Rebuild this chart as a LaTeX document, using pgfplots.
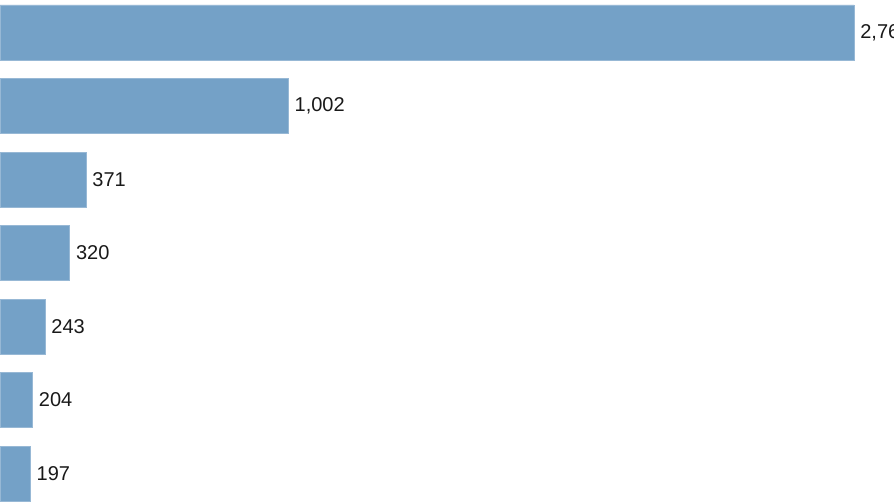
\documentclass[border=0pt]{standalone}
\usepackage{pgfplots}
\pgfplotsset{compat=1.18}
\usepackage{fontspec}
\setmainfont{Liberation Sans}
\definecolor{barblue}{RGB}{116,161,199}
\definecolor{labelgray}{RGB}{25,25,25}

\begin{document}
\begin{tikzpicture}
  \path[use as bounding box, clip] (0,0) rectangle (894bp,503bp);
  \begin{axis}[
      at={(0,0)}, anchor=south west,
      scale only axis,
      width=894bp, height=503bp,
      xmin=102.3, xmax=2891.7,
      ymin=-0.401, ymax=6.442,
      hide axis,
      xbar, bar width=0.748, bar shift=0pt,
      point meta=x,
      nodes near coords={\pgfmathprintnumber{\pgfplotspointmeta}},
      nodes near coords style={anchor=west, inner sep=0pt, xshift=6bp,
        font=\fontsize{20bp}{24bp}\selectfont, text=labelgray},
      /pgf/number format/.cd, 1000 sep={,}, assume math mode=true,
    ]
    \addplot[fill=barblue, draw=barblue!75!white, line width=0.6bp] coordinates {
        (2767,6)
        (1002,5)
        (371,4)
        (320,3)
        (243,2)
        (204,1)
        (197,0)
      };
  \end{axis}
\end{tikzpicture}
\end{document}
